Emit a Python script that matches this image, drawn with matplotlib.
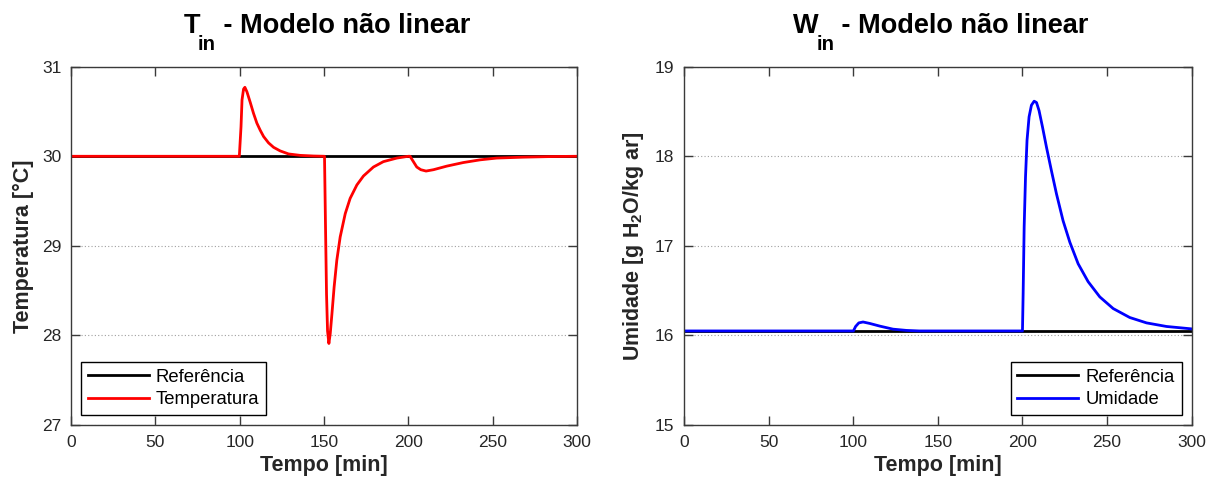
import matplotlib
matplotlib.use("Agg")
import matplotlib.pyplot as plt

plt.rcParams["font.family"] = ["Liberation Sans", "DejaVu Sans"]
plt.rcParams["mathtext.fontset"] = "custom"
plt.rcParams["mathtext.rm"] = "Liberation Sans"
plt.rcParams["mathtext.bf"] = "Liberation Sans:bold"

# Temperature model (left panel)
temp_time = [0, 99.8, 100.8, 101.4, 102.3, 103.1, 104.3, 106.3, 108.2, 110.2, 112.2,
             114.2, 117.1, 120.1, 124.0, 129.0, 135.9, 143.8, 150.3, 150.9, 151.5,
             152.1, 152.9, 153.7, 154.7, 156.0, 157.6, 159.6, 162.6, 165.5, 169.5,
             173.4, 179.3, 185.2, 193.2, 200.0, 201.0, 203.0, 205.0, 207.4, 210.5,
             214.9, 222.8, 232.6, 242.5, 252.4, 268.0, 285.0, 300.0]
temp_value = [30.0, 30.0, 30.33, 30.63, 30.75, 30.77, 30.72, 30.60, 30.48, 30.37, 30.29,
              30.22, 30.15, 30.10, 30.06, 30.026, 30.01, 30.003, 30.0, 29.21, 28.46,
              28.05, 27.91, 28.02, 28.24, 28.54, 28.84, 29.10, 29.36, 29.53, 29.68,
              29.78, 29.88, 29.94, 29.98, 30.0, 30.0, 29.94, 29.88, 29.85, 29.835,
              29.85, 29.89, 29.93, 29.96, 29.98, 29.99, 29.997, 30.0]
temp_ref_time = [0, 300]
temp_ref_value = [30.0, 30.0]

# Humidity model (right panel)
hum_time = [0, 100.1, 101.4, 103.3, 105.8, 109.7, 115.7, 123.5, 131.4, 139.0, 200.0,
            200.4, 201.0, 201.8, 202.7, 203.9, 205.3, 206.9, 208.3, 209.8, 211.8,
            214.2, 217.1, 220.1, 224.0, 228.0, 232.9, 238.8, 245.7, 253.6, 263.4,
            273.3, 285.1, 300.0]
hum_value = [16.05, 16.05, 16.10, 16.14, 16.15, 16.134, 16.104, 16.07, 16.056, 16.05, 16.05,
             16.47, 17.21, 17.77, 18.18, 18.44, 18.57, 18.615, 18.60, 18.51, 18.33,
             18.10, 17.84, 17.58, 17.28, 17.04, 16.80, 16.60, 16.43, 16.30, 16.20,
             16.14, 16.10, 16.073]
hum_ref_time = [0, 300]
hum_ref_value = [16.05, 16.05]

x_ticks = [0, 50, 100, 150, 200, 250, 300]
temp_ticks = [27, 28, 29, 30, 31]
hum_ticks = [15, 16, 17, 18, 19]

W, H = 1221, 480
tick_color = "#262626"
spine_color = "#3a3a3a"

fig = plt.figure(figsize=(W / 100, H / 100), dpi=100)
ax1 = fig.add_axes([71 / W, 55 / H, 506 / W, 358.3 / H])
ax2 = fig.add_axes([684 / W, 55 / H, 507.7 / W, 358.3 / H])


def style_axes(ax, yticks):
    ax.set_xlim(0, 300)
    ax.set_ylim(yticks[0], yticks[-1])
    ax.set_xticks(x_ticks)
    ax.set_yticks(yticks)
    ax.tick_params(direction="in", top=True, right=True, length=6.5, width=1.0,
                   labelsize=12.5, colors=spine_color, labelcolor=tick_color, pad=7)
    for spine in ax.spines.values():
        spine.set_color(spine_color)
        spine.set_linewidth(1.0)
    ax.yaxis.grid(True, linestyle=(0, (1, 2)), color="#a0a0a0", linewidth=0.8)
    ax.set_axisbelow(True)
    ax.set_xlabel("Tempo [min]", fontsize=15.5, fontweight="bold", color=tick_color, labelpad=4)


def add_legend(ax, loc):
    leg = ax.legend(loc=loc, fontsize=13.3, fancybox=False, framealpha=1,
                    edgecolor="black", handlelength=3.3, handletextpad=0.4,
                    borderaxespad=0.55, borderpad=0.35, labelspacing=0.3)
    leg.get_frame().set_linewidth(1.0)


def draw_title(ax, main, sub, rest, size=19.5):
    # MATLAB-style title: large, low subscript
    renderer = fig.canvas.get_renderer()
    parts = [(main, size, 0), (sub, size * 0.75, -17), (rest, size, 0)]
    texts = []
    for s, fs, dy in parts:
        texts.append(fig.text(0, 0, s, fontsize=fs, fontweight="bold", color="black",
                              ha="left", va="baseline"))
    widths = [t.get_window_extent(renderer).width for t in texts]
    box = ax.get_position()
    x = (box.x0 + box.x1) / 2 * W - sum(widths) / 2 + 4
    base = H - 33
    for t, w, (s, fs, dy) in zip(texts, widths, parts):
        t.set_position((x / W, (base + dy) / H))
        x += w - (2 if s == main else 0)


ax1.plot(temp_ref_time, temp_ref_value, color="black", linewidth=2, label="Referência")
ax1.plot(temp_time, temp_value, color="red", linewidth=2, label="Temperatura")
style_axes(ax1, temp_ticks)
ax1.set_ylabel("Temperatura [°C]", fontsize=15.5, fontweight="bold", color=tick_color, labelpad=6)
add_legend(ax1, "lower left")

ax2.plot(hum_ref_time, hum_ref_value, color="black", linewidth=2, label="Referência")
ax2.plot(hum_time, hum_value, color="blue", linewidth=2, label="Umidade")
style_axes(ax2, hum_ticks)
ax2.set_ylabel(r"Umidade [g H$_{\mathbf{2}}$O/kg ar]", fontsize=15.5, fontweight="bold",
               color=tick_color, labelpad=6)
add_legend(ax2, "lower right")

draw_title(ax1, "T", "in", " - Modelo não linear")
draw_title(ax2, "W", "in", " - Modelo não linear")

fig.savefig("out.png", dpi=100)
